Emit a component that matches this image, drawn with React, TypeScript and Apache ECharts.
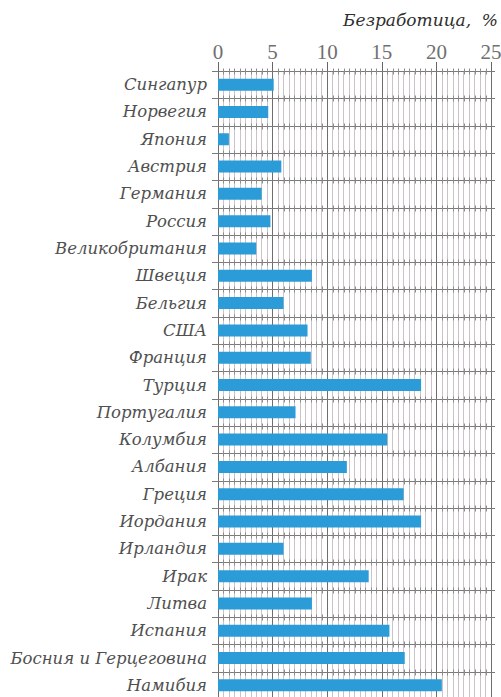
import React, { useEffect, useRef } from "react";
import * as echarts from "echarts";

const countries = [
  "Сингапур", "Норвегия", "Япония", "Австрия", "Германия", "Россия",
  "Великобритания", "Швеция", "Бельгия", "США", "Франция", "Турция",
  "Португалия", "Колумбия", "Албания", "Греция", "Иордания", "Ирландия",
  "Ирак", "Литва", "Испания", "Босния и Герцеговина", "Намибия",
];
const unemployment = [
  5.1, 4.6, 1.0, 5.8, 4.0, 4.8,
  3.5, 8.6, 6.0, 8.2, 8.5, 18.6,
  7.1, 15.5, 11.8, 17.0, 18.6, 6.0,
  13.8, 8.6, 15.7, 17.1, 20.5,
];
const xTicks = [0, 5, 10, 15, 20, 25];
const titleText = "Безработица,  %";

export default function App() {
  const ref = useRef<HTMLDivElement>(null);
  useEffect(() => {
    if (!ref.current) return;
    const chart = echarts.init(ref.current, null, { renderer: "svg" });
    const serif = "'Liberation Serif', 'DejaVu Serif', serif";
    const wideSerif = "'DejaVu Serif', 'Liberation Serif', serif";
    const xMin = xTicks[0];
    const xMax = xTicks[xTicks.length - 1];

    const rowLines = (params: any, api: any) => {
      const i = api.value(1);
      const band = api.size([0, 1])[1];
      const left = api.coord([xMin, i]);
      const right = api.coord([xMax, i]);
      const y = Math.round(left[1] - band / 2) + 0.5;
      const children: any[] = [
        {
          type: "line",
          shape: { x1: left[0] - 6, y1: y, x2: right[0] + 4, y2: y },
          style: { stroke: "#7a7a7a", lineWidth: 1 },
        },
      ];
      for (let k = 1; k < (xMax - xMin) * 2; k++) {
        if (k % 10 === 0) continue;
        const px = api.coord([xMin + k / 2, i])[0];
        const xx = Math.round(px) + 0.5;
        children.push({
          type: "line",
          shape: { x1: xx, y1: y - 3, x2: xx, y2: y + 3 },
          style: { stroke: "#8c8c8c", lineWidth: 1 },
        });
      }
      return { type: "group", children };
    };

    chart.setOption({
      animation: false,
      backgroundColor: "#ffffff",
      title: {
        text: titleText,
        right: -2,
        top: 6,
        textStyle: {
          fontFamily: wideSerif,
          fontStyle: "italic",
          fontWeight: "normal",
          fontSize: 17,
          color: "#2e2e2e",
        },
      },
      grid: {
        left: 218,
        right: 10,
        top: 71,
        height: 628,
        outerBoundsMode: "none",
        containLabel: false,
      },
      xAxis: {
        type: "value",
        position: "top",
        min: xMin,
        max: xMax,
        interval: 5,
        axisLine: { show: false },
        axisTick: { show: true, length: 9, lineStyle: { color: "#666" } },
        axisLabel: {
          fontFamily: serif,
          fontSize: 21,
          color: "#707070",
          margin: 9,
          formatter: (v: number) => (xTicks.includes(v) ? String(v) : ""),
        },
        splitLine: { show: true, lineStyle: { color: "#6e6e6e", width: 1 } },
        minorTick: { show: false, splitNumber: 10 },
        minorSplitLine: { show: true, lineStyle: { color: "#cbc3c7", width: 1 } },
      },
      yAxis: {
        type: "category",
        data: countries,
        inverse: true,
        boundaryGap: true,
        axisLine: { show: true, lineStyle: { color: "#6e6e6e" } },
        axisTick: { show: false },
        axisLabel: {
          fontFamily: wideSerif,
          fontStyle: "italic",
          fontSize: 16.5,
          color: "#505050",
          margin: 11,
          interval: 0,
        },
        splitLine: { show: false },
      },
      series: [
        {
          type: "custom",
          renderItem: rowLines,
          data: countries.map((_, i) => [xMin, i]),
          encode: { x: 0, y: 1 },
          clip: false,
          silent: true,
          z: 1,
        },
        {
          type: "bar",
          data: unemployment,
          barWidth: 12,
          itemStyle: { color: "#2b9cd8" },
          z: 3,
        },
      ],
    });
    return () => chart.dispose();
  }, []);
  return (
    <div
      ref={ref}
      style={{ position: "fixed", left: 0, top: 0, width: 501, height: 697 }}
    />
  );
}
